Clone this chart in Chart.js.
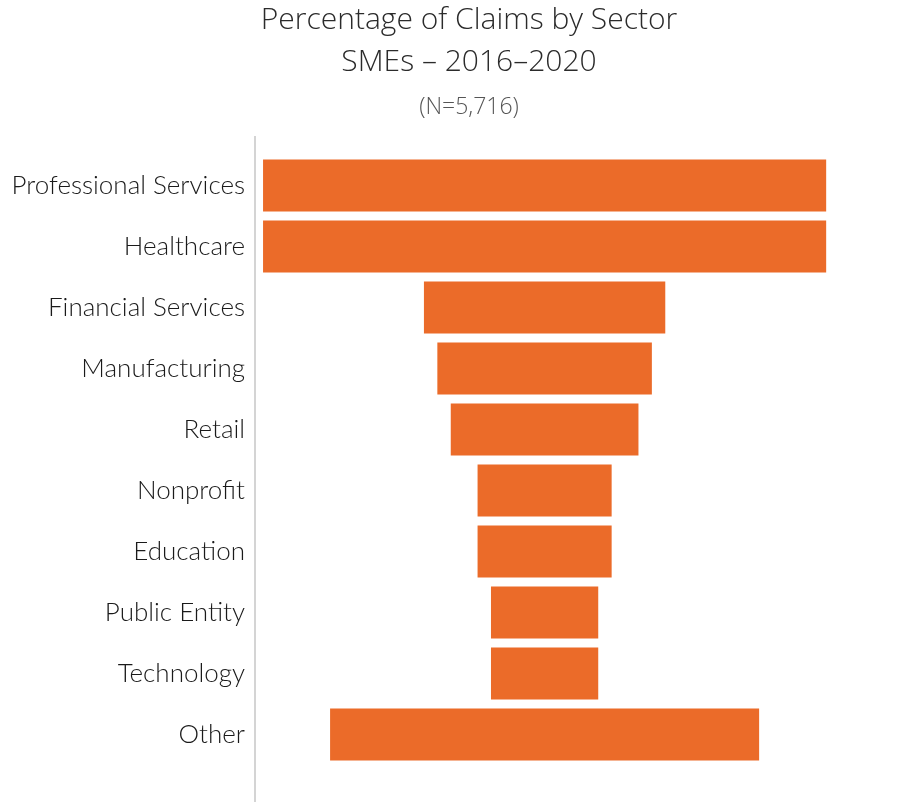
<!DOCTYPE html>
<html>
<head>
<meta charset="utf-8">
<style>
  html, body { margin: 0; padding: 0; background: #ffffff; }
  #wrap { width: 916px; height: 802px; }
</style>
<script src="https://cdn.jsdelivr.net/npm/chart.js@4"></script>
</head>
<body>
<div id="wrap"><canvas id="chart" width="916" height="802"></canvas></div>
<script>
// Share of claims per sector (%), SMEs 2016–2020
const sectors = [
  'Professional Services', 'Healthcare', 'Financial Services', 'Manufacturing',
  'Retail', 'Nonprofit', 'Education', 'Public Entity', 'Technology', 'Other'
];
const shares = [21, 21, 9, 8, 7, 5, 5, 4, 4, 16];

const titleLines = ['Percentage of Claims by Sector', 'SMEs \u2013 2016\u20132020'];
const sampleNote = '(N=5,716)';

// Each bar is centred on zero so the rows form a funnel
const centred = shares.map(v => [-v / 2, v / 2]);

const HEAD_FONT = '"Open Sans", Lato, sans-serif';
const LABEL_FONT = 'Lato, "Open Sans", sans-serif';

// Light vertical rule along the category axis
const axisRule = {
  id: 'axisRule',
  beforeDatasetsDraw(chart) {
    const { ctx, chartArea } = chart;
    const x = chartArea.left;
    ctx.save();
    ctx.strokeStyle = '#d4d4d4';
    ctx.lineWidth = 2;
    ctx.beginPath();
    ctx.moveTo(x, chartArea.top - 19);
    ctx.lineTo(x, chart.height);
    ctx.stroke();
    ctx.restore();
  }
};

// Headings are centred a little right of the canvas middle
const headingShift = {
  id: 'headingShift',
  afterLayout(chart) {
    chart.boxes.forEach(box => {
      if (box.position === 'top' && box.fullSize && box.options && 'text' in box.options) {
        box.left += 22;
      }
    });
  }
};

new Chart(document.getElementById('chart'), {
  type: 'bar',
  data: {
    labels: sectors,
    datasets: [{
      data: centred,
      backgroundColor: '#EB6B29',
      borderWidth: 0,
      barPercentage: 0.855,
      categoryPercentage: 1.0
    }]
  },
  options: {
    indexAxis: 'y',
    responsive: false,
    animation: false,
    layout: { padding: { left: 0, right: 0, top: 0, bottom: 37 } },
    scales: {
      x: {
        display: false,
        min: -10.8,
        max: 13.85
      },
      y: {
        grid: { display: false },
        border: { display: false },
        afterFit(scale) { scale.width = 255; },
        ticks: {
          padding: 2,
          color: '#1a1a1a',
          font: { family: LABEL_FONT, size: 26, weight: 300 }
        }
      }
    },
    plugins: {
      legend: { display: false },
      tooltip: { enabled: false },
      title: {
        display: true,
        text: titleLines,
        color: '#2b2b2b',
        font: { family: HEAD_FONT, size: 30, weight: 300, lineHeight: 1.39 },
        padding: { top: 0, bottom: 10 }
      },
      subtitle: {
        display: true,
        text: sampleNote,
        color: '#555555',
        font: { family: HEAD_FONT, size: 23, weight: 300, lineHeight: 1.2 },
        padding: { top: 0, bottom: 34 }
      }
    }
  },
  plugins: [axisRule, headingShift]
});
</script>
</body>
</html>
